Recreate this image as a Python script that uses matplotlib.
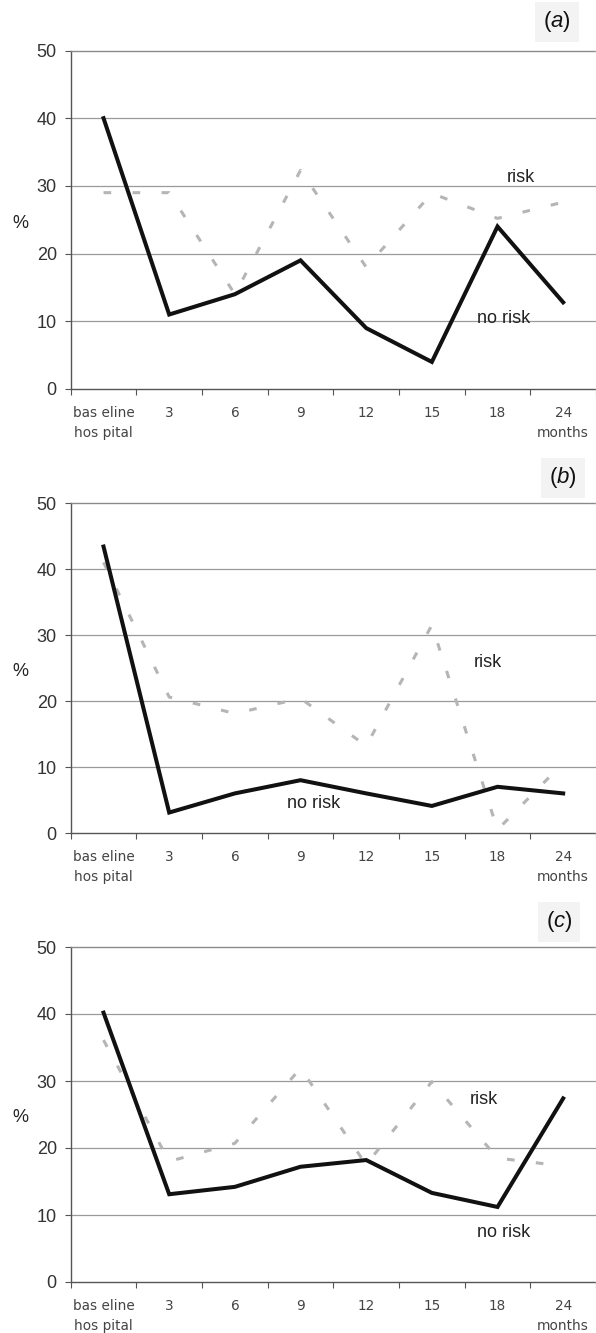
import matplotlib
matplotlib.use("Agg")
import matplotlib.pyplot as plt

plt.rcParams['font.family'] = ['Liberation Sans', 'DejaVu Sans']
plt.rcParams['mathtext.fontset'] = 'custom'
plt.rcParams['mathtext.rm'] = 'Liberation Sans'
plt.rcParams['mathtext.it'] = 'Liberation Sans:italic'

categories = ["bas eline\nhos pital", "3", "6", "9", "12", "15", "18", "24\nmonths"]
yticks = [0, 10, 20, 30, 40, 50]

no_risk_a = [40, 11, 14, 19, 9, 4, 24, 12.8]
risk_a = [29, 29, 14, 32.3, 18, 28.9, 25.2, 27.6]

no_risk_b = [43.4, 3.1, 6, 8, 6, 4.1, 7, 6]
risk_b = [41, 20.6, 18.1, 20.4, 13.2, 31.5, 0.5, 10.6]

no_risk_c = [40.2, 13.1, 14.2, 17.2, 18.2, 13.3, 11.2, 27.4]
risk_c = [36.1, 18, 20.7, 31.9, 17.5, 29.9, 18.5, 17.3]

panels = [
    dict(label='a', no_risk=no_risk_a, risk=risk_a,
         rect=[70.7, 50.5, 389], risk_txt=(6.35, 31.2), norisk_txt=(6.1, 10.4),
         lab=(557, 22)),
    dict(label='b', no_risk=no_risk_b, risk=risk_b,
         rect=[70.7, 503, 833], risk_txt=(5.85, 25.8), norisk_txt=(3.2, 4.5),
         lab=(563, 478)),
    dict(label='c', no_risk=no_risk_c, risk=risk_c,
         rect=[70.7, 947, 1282], risk_txt=(5.8, 27.2), norisk_txt=(6.1, 7.4),
         lab=(559, 922)),
]

W, H = 596, 1333
fig = plt.figure(figsize=(W / 100, H / 100), dpi=100)

x = list(range(len(categories)))
for p in panels:
    left, top, bottom = p['rect']
    ax = fig.add_axes([left / W, 1 - bottom / H, (W - left) / W, (bottom - top) / H])
    ax.set_xlim(-0.5, len(categories) - 0.5)
    ax.set_ylim(0, 50)
    for yv in [10, 20, 30, 40]:
        ax.axhline(yv, color='#9a9a9a', lw=0.9, zorder=1)
    ax.plot(x, p['risk'], color='#b5b5b5', lw=2.2, linestyle=(0, (2.5, 7)), zorder=2)
    ax.plot(x, p['no_risk'], color='#111111', lw=2.9, solid_joinstyle='miter', zorder=3)

    ax.set_yticks(yticks)
    ax.set_yticklabels([str(v) for v in yticks], fontsize=13, color='#333333')
    ax.tick_params(axis='y', length=4, width=0.8, color='#555555', pad=6)
    ax.set_xticks([i - 0.5 for i in range(len(categories) + 1)])
    ax.set_xticklabels([''] * (len(categories) + 1))
    ax.tick_params(axis='x', which='major', length=4, width=0.8, color='#555555')
    ax.set_xticks(x, minor=True)
    ax.set_xticklabels(categories, minor=True, fontsize=9.8, color='#444444',
                       family=['DejaVu Sans'], linespacing=1.5)
    ax.tick_params(axis='x', which='minor', length=0, pad=12.5)

    for s in ['left', 'bottom', 'top']:
        ax.spines[s].set_linestyle((0, (2, 1)))
        ax.spines[s].set_linewidth(1.0)
    ax.spines['left'].set_color('#555555')
    ax.spines['bottom'].set_color('#555555')
    ax.spines['top'].set_color('#8a8a8a')
    ax.spines['right'].set_visible(False)

    ax.set_ylabel('%', rotation=0, fontsize=13, va='center', ha='center', color='#222222')
    ax.yaxis.set_label_coords(-0.095, 0.49)

    ax.text(p['risk_txt'][0], p['risk_txt'][1], 'risk', fontsize=13,
            ha='center', va='center', color='#222222', zorder=4)
    ax.text(p['norisk_txt'][0], p['norisk_txt'][1], 'no risk', fontsize=13,
            ha='center', va='center', color='#222222', zorder=4)

    lx, ly = p['lab']
    fig.text(lx / W, 1 - ly / H, r'($\it{' + p['label'] + r'}$)', fontsize=16,
             ha='center', va='center', color='#111111',
             bbox=dict(boxstyle='square,pad=0.35', facecolor='#f3f3f3', edgecolor='none'))

fig.savefig('out.png', dpi=100)
